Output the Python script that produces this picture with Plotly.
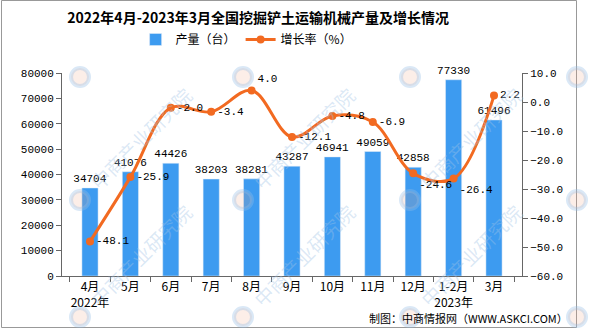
import plotly.graph_objects as go

categories = ["4月<br>2022年", "5月", "6月", "7月", "8月", "9月", "10月", "11月", "12月", "1-2月<br>2023年", "3月"]
production = [34704, 41076, 44426, 38203, 38281, 43287, 46941, 49059, 42858, 77330, 61496]
growth = [-48.1, -25.9, -2.0, -3.4, 4.0, -12.1, -4.8, -6.9, -24.6, -26.4, 2.2]
growth_pos = ["middle right", "middle right", "middle right", "middle right", "top right", "middle right",
              "middle right", "middle right", "bottom right", "bottom right", "middle right"]

font_num = "'Liberation Mono', monospace"
font_cjk = "'Noto Sans CJK SC', sans-serif"

# plot-area geometry in pixels (used only for decoration placement)
PL, PR, PT, PB = 62, 522, 73, 276
def px(x): return (x - PL) / (PR - PL)
def py(y): return (PB - y) / (PB - PT)

fig = go.Figure()
fig.add_trace(go.Bar(
    x=categories, y=production, name="产量（台）",
    marker_color="#3D9BF0",
    text=[str(v) for v in production], textposition="outside",
    textangle=0, constraintext="none",
    textfont=dict(size=11, color="#000", family=font_num),
    cliponaxis=False,
))
fig.add_trace(go.Scatter(
    x=categories, y=growth, name="增长率（%）", yaxis="y2",
    mode="lines+markers+text",
    line=dict(color="#F26A21", width=3, shape="spline", smoothing=1.0),
    marker=dict(size=8, color="#F26A21"),
    text=[f"{v:.1f}" for v in growth], textposition=growth_pos,
    textfont=dict(size=11, color="#000", family=font_num),
    cliponaxis=False,
))

annotations = [dict(text="制图：中商情报网（WWW.ASKCI.COM）", xref="paper", yref="paper",
                    x=px(570), y=py(318), xanchor="right", yanchor="middle", showarrow=False,
                    font=dict(size=11, color="#000", family=font_cjk))]
shapes = [dict(type="rect", xref="paper", yref="paper", x0=px(1.5), x1=px(576.5), y0=py(327.5), y1=py(0.5),
               line=dict(color="#999", width=1), layer="above")]

# watermark tiles
logo_xs = [-85, 80, 243, 410, 577]
logo_ys = [77, 200, 317]
for lx in logo_xs:
    for ly in logo_ys:
        shapes.append(dict(type="circle", xref="paper", yref="paper", xsizemode="pixel", ysizemode="pixel",
                           xanchor=px(lx), yanchor=py(ly), x0=-9, x1=9, y0=-9, y1=9,
                           line=dict(color="rgba(150,190,230,0.35)", width=4),
                           fillcolor="rgba(240,160,130,0.18)", layer="above"))
for lx in [80, 243, 410]:
    for ly in [200, 317]:
        annotations.append(dict(text="中商产业研究院", xref="paper", yref="paper",
                                x=px(lx + 60), y=py(ly - 62), xanchor="center", yanchor="middle",
                                textangle=-45, showarrow=False,
                                font=dict(size=19, color="rgba(160,195,230,0.38)", family=font_cjk)))

fig.update_layout(
    width=595, height=329,
    margin=dict(l=PL, r=595 - PR, t=PT, b=329 - PB),
    paper_bgcolor="white", plot_bgcolor="white",
    title=dict(text="<b>2022年4月-2023年3月全国挖掘铲土运输机械产量及增长情况</b>",
               x=0.434, xanchor="center", y=0.945, yanchor="middle",
               font=dict(size=14, color="#000", family=font_cjk)),
    legend=dict(orientation="h", x=0.16, xanchor="left", y=1.165, yanchor="middle",
                font=dict(size=12, color="#000", family=font_cjk)),
    bargap=0.6,
    showlegend=True,
    xaxis=dict(type="category", tickson="boundaries", ticks="outside", ticklen=5,
               tickcolor="#666", showline=True, linecolor="#666", linewidth=1, tickangle=0,
               tickfont=dict(size=12, color="#000", family=font_cjk), showgrid=False),
    yaxis=dict(range=[0, 80000], dtick=10000, tickformat="d", ticks="outside", ticklen=5,
               tickcolor="#666", showline=True, linecolor="#666", showgrid=False,
               tickfont=dict(size=11, color="#000", family=font_num), zeroline=False),
    yaxis2=dict(range=[-60, 10], dtick=10, tickformat=".1f", overlaying="y", side="right",
                ticks="outside", ticklen=5, tickcolor="#666", showline=True, linecolor="#666",
                showgrid=False, zeroline=False,
                tickfont=dict(size=11, color="#000", family=font_num)),
    shapes=shapes,
    annotations=annotations,
)

fig.write_html("out.html")
